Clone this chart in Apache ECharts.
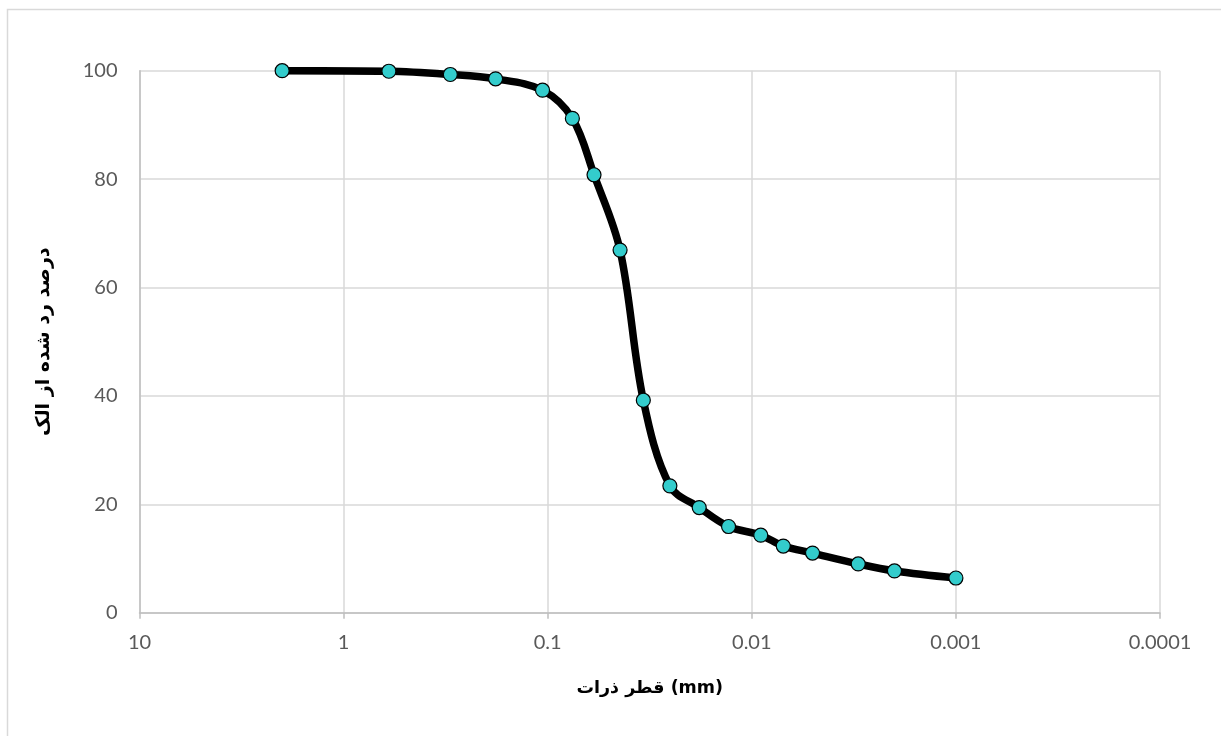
<!DOCTYPE html>
<html>
<head>
<meta charset="utf-8">
<script src="https://cdn.jsdelivr.net/npm/echarts@6/dist/echarts.min.js"></script>
<style>
html,body{margin:0;padding:0;background:#fff;}
#chart{width:1221px;height:736px;}
</style>
</head>
<body>
<div id="chart"></div>
<script>
// Particle diameter (mm) and percent passing
const diameters = [2, 0.6, 0.3, 0.18, 0.106, 0.0757, 0.0593, 0.0442, 0.034, 0.0252, 0.0181, 0.013, 0.00904, 0.00701, 0.00504, 0.00301, 0.002, 0.001];
const passing   = [100, 99.9, 99.3, 98.5, 96.4, 91.2, 80.8, 66.9, 39.2, 23.4, 19.4, 15.9, 14.3, 12.3, 11.0, 9.0, 7.7, 6.4];
const xTickLabels = ['10', '1', '0.1', '0.01', '0.001', '0.0001'];
const xTitle = 'قطر ذرات (mm)';
const yTitle = 'درصد رد شده از الک';

const chart = echarts.init(document.getElementById('chart'), null, {renderer: 'canvas'});
const pts = diameters.map((d, i) => [d, passing[i]]);
const labelFont = 'Lato, "Open Sans", sans-serif';
chart.setOption({
  animation: false,
  backgroundColor: '#fff',
  graphic: [{
    type: 'rect',
    shape: {x: 7.5, y: 9.5, width: 1230, height: 760},
    style: {fill: 'none', stroke: '#d9d9d9', lineWidth: 1.5},
    silent: true
  }],
  grid: {left: 139.5, right: 61, top: 70.7, bottom: 123.3, containLabel: false},
  xAxis: {
    type: 'log',
    logBase: 10,
    min: 0.0001,
    max: 10,
    inverse: true,
    name: xTitle,
    nameLocation: 'middle',
    nameGap: 67,
    nameTextStyle: {fontFamily: '"DejaVu Sans", sans-serif', fontWeight: 'bold', fontSize: 17.5, color: '#000'},
    axisLine: {show: true, lineStyle: {color: '#bfbfbf', width: 1.5}},
    axisTick: {show: true, length: 6, lineStyle: {color: '#bfbfbf', width: 1.5}},
    minorTick: {show: false},
    axisLabel: {
      margin: 20,
      fontFamily: labelFont, fontSize: 20, color: '#595959',
      formatter: function (v) {
        const e = Math.round(Math.log10(v));
        return xTickLabels[1 - e] !== undefined ? xTickLabels[1 - e] : '';
      }
    },
    splitLine: {show: true, lineStyle: {color: '#d9d9d9', width: 1.5}}
  },
  yAxis: {
    type: 'value',
    min: 0,
    max: 100,
    interval: 20,
    name: yTitle,
    nameLocation: 'middle',
    nameGap: 86,
    nameRotate: 90,
    nameTextStyle: {fontFamily: '"DejaVu Sans", sans-serif', fontWeight: 'bold', fontSize: 19, color: '#000'},
    axisLine: {show: true, lineStyle: {color: '#bfbfbf', width: 1.5}},
    axisTick: {show: false},
    axisLabel: {margin: 22, fontFamily: labelFont, fontSize: 20, color: '#595959'},
    splitLine: {show: true, lineStyle: {color: '#d9d9d9', width: 1.5}}
  },
  series: [{
    type: 'line',
    data: pts,
    smooth: 0.35,
    symbol: 'circle',
    symbolSize: 14,
    lineStyle: {color: '#000', width: 7.5},
    itemStyle: {color: '#33cccc', borderColor: '#000', borderWidth: 1.2},
    z: 3
  }]
});
</script>
</body>
</html>
